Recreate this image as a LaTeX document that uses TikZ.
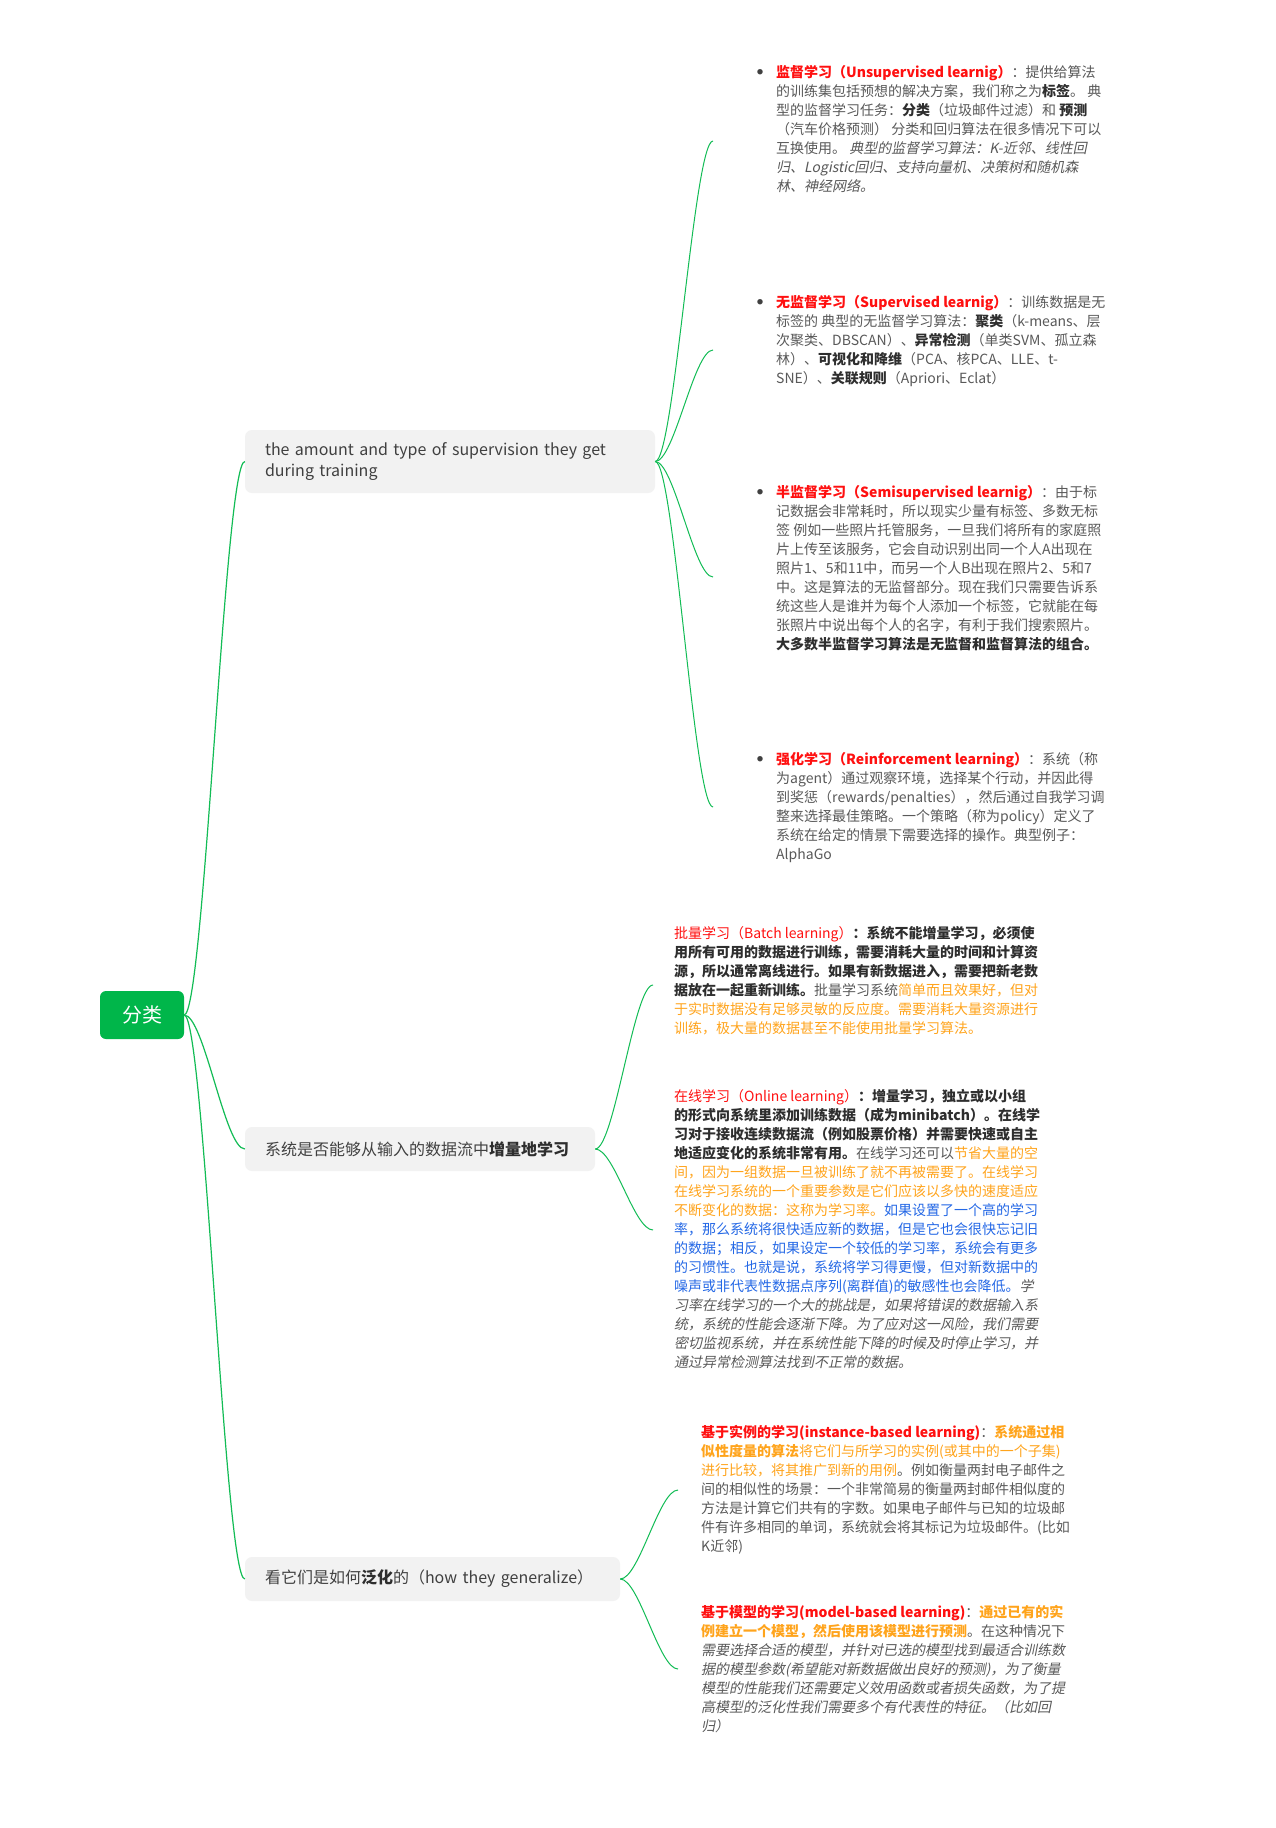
\documentclass[tikz,border=0pt]{standalone}
\usepackage{fontspec}
\setmainfont{Noto Sans CJK SC}[AutoFakeSlant=0.2]
\definecolor{mmgreen}{HTML}{00B64A}
\definecolor{edgegreen}{HTML}{12BC55}
\definecolor{boxfill}{HTML}{F2F2F2}
\definecolor{boxtext}{HTML}{404040}
\definecolor{txt}{HTML}{595959}
\definecolor{txtb}{HTML}{2E2E2E}
\definecolor{cred}{HTML}{FF1010}
\definecolor{corange}{HTML}{FFA41C}
\definecolor{cblue}{HTML}{2468E6}
\definecolor{bulletc}{HTML}{404040}
\newcommand\redb[1]{{\bfseries\color{cred}#1}}
\newcommand\redr[1]{{\color{cred}#1}}
\newcommand\bk[1]{{\bfseries\color{txtb}#1}}
\newcommand\orn[1]{{\color{corange}#1}}
\newcommand\ornb[1]{{\bfseries\color{corange}#1}}
\newcommand\blu[1]{{\color{cblue}#1}}
\newcommand\itg[1]{{\itshape #1}}
\newcommand\fs{\rule{0pt}{14pt}}
\newcommand\mybul{\llap{\raisebox{3.2pt}{\fontsize{6}{6}\selectfont\color{bulletc}●}\hspace{13pt}}}
\begin{document}
\begin{tikzpicture}[x=1pt,y=-1pt,
  edge/.style={draw=edgegreen,line width=1.2pt},
  rootnode/.style={fill=mmgreen,rounded corners=6pt,minimum width=84pt,minimum height=48pt,
    text=white,font=\fontsize{20}{24}\selectfont,inner sep=0pt},
  mmbox/.style={fill=boxfill,rounded corners=7pt,inner xsep=20pt,inner ysep=0pt,align=left,
    text=boxtext,font=\fontsize{16}{21}\selectfont},
  ctext/.style={anchor=north west,inner sep=0pt,align=left,text=txt,
    font=\fontsize{14}{19}\selectfont}]
\useasboundingbox (0,0) rectangle (1275,1828);
\fill[white] (0,0) rectangle (1275,1828);

% root and first level
\node[rootnode] (root) at (142,1015) {分类};
\node[mmbox,text width=370pt,minimum height=63pt] (b1) at (450,461.5)
  {the amount and type of supervision they get\\during training};
\node[mmbox,text width=310pt,minimum height=44pt] (b2) at (420,1149)
  {系统是否能够从输入的数据流中{\bfseries\color{txtb}增量地学习}};
\node[mmbox,text width=335pt,minimum height=44pt] (b3) at (432.5,1579)
  {看它们是如何{\bfseries\color{txtb}泛化}的（how they generalize）};

\draw[edge] (root.east) .. controls +(20,0) and +(-20,0) .. (b1.west);
\draw[edge] (root.east) .. controls +(20,0) and +(-20,0) .. (b2.west);
\draw[edge] (root.east) .. controls +(20,0) and +(-20,0) .. (b3.west);

% connector ends of the leaf texts
\coordinate (c11) at (713,141);
\coordinate (c12) at (713,350);
\coordinate (c13) at (713,577);
\coordinate (c14) at (713,807);
\coordinate (c21) at (653,985);
\coordinate (c22) at (653,1230);
\coordinate (c31) at (678,1490);
\coordinate (c32) at (678,1669);

\foreach \c in {c11,c12,c13,c14}
  \draw[edge,line width=1pt] (b1.east) .. controls +(19,0) and +(-19,0) .. (\c);
\foreach \c in {c21,c22}
  \draw[edge,line width=1pt] (b2.east) .. controls +(19,0) and +(-19,0) .. (\c);
\foreach \c in {c31,c32}
  \draw[edge,line width=1pt] (b3.east) .. controls +(19,0) and +(-19,0) .. (\c);

% leaves of b1
\node[ctext] (n11) at (776,63.6) {%
\mybul\fs\redb{监督学习（Unsupervised learnig）}：提供给算法\\%
的训练集包括预想的解决方案，我们称之为\bk{标签}。 典\\%
型的监督学习任务：\bk{分类}（垃圾邮件过滤）和 \bk{预测}\\%
（汽车价格预测） 分类和回归算法在很多情况下可以\\%
互换使用。 \itg{典型的监督学习算法：K-近邻、线性回}\\%
\itg{归、Logistic回归、支持向量机、决策树和随机森}\\%
\itg{林、神经网络。}};

\node[ctext] (n12) at (776,293.3) {%
\mybul\fs\redb{无监督学习（Supervised learnig）}：训练数据是无\\%
标签的 典型的无监督学习算法：\bk{聚类}（k-means、层\\%
次聚类、DBSCAN）、\bk{异常检测}（单类SVM、孤立森\\%
林）、\bk{可视化和降维}（PCA、核PCA、LLE、t-\\%
SNE）、\bk{关联规则}（Apriori、Eclat）};

\node[ctext] (n13) at (776,483.3) {%
\mybul\fs\redb{半监督学习（Semisupervised learnig）}：由于标\\%
记数据会非常耗时，所以现实少量有标签、多数无标\\%
签 例如一些照片托管服务，一旦我们将所有的家庭照\\%
片上传至该服务，它会自动识别出同一个人A出现在\\%
照片1、5和11中，而另一个人B出现在照片2、5和7\\%
中。这是算法的无监督部分。现在我们只需要告诉系\\%
统这些人是谁并为每个人添加一个标签，它就能在每\\%
张照片中说出每个人的名字，有利于我们搜索照片。\\%
\bk{大多数半监督学习算法是无监督和监督算法的组合。}};

\node[ctext] (n14) at (776,750.3) {%
\mybul\fs\redb{强化学习（Reinforcement learning）}：系统（称\\%
为agent）通过观察环境，选择某个行动，并因此得\\%
到奖惩（rewards/penalties），然后通过自我学习调\\%
整来选择最佳策略。一个策略（称为policy）定义了\\%
系统在给定的情景下需要选择的操作。典型例子：\\%
AlphaGo};

% leaves of b2
\node[ctext] (n21) at (674,924.6) {%
\fs\redr{批量学习（Batch learning）}\bk{：系统不能增量学习，必须使}\\%
\bk{用所有可用的数据进行训练，需要消耗大量的时间和计算资}\\%
\bk{源，所以通常离线进行。如果有新数据进入，需要把新老数}\\%
\bk{据放在一起重新训练。}批量学习系统\orn{简单而且效果好，但对}\\%
\orn{于实时数据没有足够灵敏的反应度。需要消耗大量资源进行}\\%
\orn{训练，极大量的数据甚至不能使用批量学习算法。}};

\node[ctext] (n22) at (674,1087.3) {%
\fs\redr{在线学习（Online learning）}\bk{：增量学习，独立或以小组}\\%
\bk{的形式向系统里添加训练数据（成为minibatch）。在线学}\\%
\bk{习对于接收连续数据流（例如股票价格）并需要快速或自主}\\%
\bk{地适应变化的系统非常有用。}在线学习还可以\orn{节省大量的空}\\%
\orn{间，因为一组数据一旦被训练了就不再被需要了。在线学习}\\%
\orn{在线学习系统的一个重要参数是它们应该以多快的速度适应}\\%
\orn{不断变化的数据：这称为学习率。}\blu{如果设置了一个高的学习}\\%
\blu{率，那么系统将很快适应新的数据，但是它也会很快忘记旧}\\%
\blu{的数据；相反，如果设定一个较低的学习率，系统会有更多}\\%
\blu{的习惯性。也就是说，系统将学习得更慢，但对新数据中的}\\%
\blu{噪声或非代表性数据点序列(离群值)的敏感性也会降低。}\itg{学}\\%
\itg{习率在线学习的一个大的挑战是，如果将错误的数据输入系}\\%
\itg{统，系统的性能会逐渐下降。为了应对这一风险，我们需要}\\%
\itg{密切监视系统，并在系统性能下降的时候及时停止学习，并}\\%
\itg{通过异常检测算法找到不正常的数据。}};

% leaves of b3
\node[ctext] (n31) at (701,1423) {%
\fs\redb{基于实例的学习(instance-based learning)}：\ornb{系统通过相}\\%
\ornb{似性度量的算法}\orn{将它们与所学习的实例(或其中的一个子集)}\\%
\orn{进行比较，将其推广到新的用例}。例如衡量两封电子邮件之\\%
间的相似性的场景：一个非常简易的衡量两封邮件相似度的\\%
方法是计算它们共有的字数。如果电子邮件与已知的垃圾邮\\%
件有许多相同的单词，系统就会将其标记为垃圾邮件。(比如\\%
K近邻)};

\node[ctext] (n32) at (701,1603.6) {%
\fs\redb{基于模型的学习(model-based learning)}：\ornb{通过已有的实}\\%
\ornb{例建立一个模型，然后使用该模型进行预测}。在这种情况下\\%
\itg{需要选择合适的模型，并针对已选的模型找到最适合训练数}\\%
\itg{据的模型参数(希望能对新数据做出良好的预测)，为了衡量}\\%
\itg{模型的性能我们还需要定义效用函数或者损失函数，为了提}\\%
\itg{高模型的泛化性我们需要多个有代表性的特征。（比如回}\\%
\itg{归）}};
\end{tikzpicture}
\end{document}
